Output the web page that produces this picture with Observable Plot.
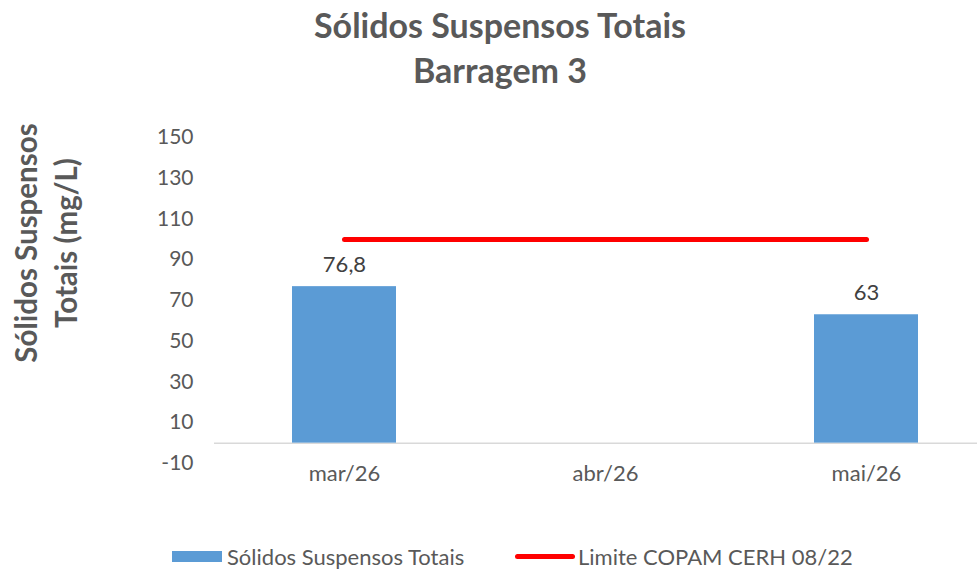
<!DOCTYPE html>
<html>
<head>
<meta charset="utf-8">
<script src="https://cdn.jsdelivr.net/npm/d3@7"></script>
<script src="https://cdn.jsdelivr.net/npm/@observablehq/plot@0.6"></script>
<style>
  html, body { margin: 0; padding: 0; background: #fff; }
  #wrap { position: relative; width: 977px; height: 575px; font-family: Lato, "Open Sans", sans-serif; color: #595959; overflow: hidden; }
  #title { position: absolute; left: 0; top: 2px; width: 1000px; text-align: center; font-weight: bold; font-size: 34px; line-height: 45px; color: #595959; }
  #chart { position: absolute; left: 0; top: 105px; }
  .ytitle { position: absolute; width: 400px; height: 40px; line-height: 40px; text-align: center; font-weight: bold; font-size: 29.5px; color: #595959; transform: rotate(-90deg); transform-origin: 50% 50%; white-space: nowrap; }
  #legend { position: absolute; top: 541px; left: 0; width: 977px; height: 30px; font-size: 22px; color: #595959; }
  .item { position: absolute; top: 0; display: flex; align-items: center; height: 30px; }
  .sw-bar { width: 50px; height: 11px; background: #5B9BD5; margin-right: 5px; }
  .sw-line { width: 60px; height: 5px; border-radius: 3px; background: #FF0000; margin-right: 3px; }
</style>
</head>
<body>
<div id="wrap">
  <div id="title">Sólidos Suspensos Totais<br>Barragem 3</div>
  <div id="chart"></div>
  <div id="ytitle"></div>
  <div id="legend">
    <div class="item" style="left:172px"><div class="sw-bar"></div><span>Sólidos Suspensos Totais</span></div>
    <div class="item" style="left:515px"><div class="sw-line"></div><span>Limite COPAM CERH 08/22</span></div>
  </div>
</div>
<script>
const months = ["mar/26", "abr/26", "mai/26"];
const sst = [76.8, null, 63];
const limite = [100, 100, 100];
const yTicks = [-10, 10, 30, 50, 70, 90, 110, 130, 150];
const yTitleLines = ["Sólidos Suspensos", "Totais (mg/L)"];

// y-axis title (rotated, two lines)
yTitleLines.forEach((t, i) => {
  const el = document.createElement("div");
  el.className = "ytitle";
  el.textContent = t;
  const cx = 26 + i * 40, cy = 243;
  el.style.left = (cx - 200) + "px";
  el.style.top = (cy - 20) + "px";
  document.getElementById("ytitle").appendChild(el);
});

const bars = months.map((m, i) => ({month: m, value: sst[i]})).filter(d => d.value != null);
const lim = months.map((m, i) => ({month: m, value: limite[i]}));
const fmt = v => String(v).replace(".", ",");

const chart = Plot.plot({
  width: 977,
  height: 400,
  marginTop: 32,
  marginBottom: 42,
  marginLeft: 214,
  marginRight: 0,
  style: {fontFamily: "Lato, 'Open Sans', sans-serif", fontSize: "21px", color: "#595959", background: "white"},
  x: {domain: months, range: [214, 997], paddingInner: 0.6, paddingOuter: 0.3, label: null},
  y: {domain: [-10, 150], ticks: yTicks, label: null},
  marks: [
    Plot.axisY({ticks: yTicks, tickFormat: d => String(d), tickSize: 0, tickPadding: 21, fontSize: 21, fill: "#595959", label: null}),
    Plot.axisX({tickSize: 0, tickPadding: 2, fontSize: 22, fill: "#595959", label: null}),
    Plot.ruleY([0], {stroke: "#D9D9D9", strokeWidth: 1.5}),
    Plot.barY(bars, {x: "month", y: "value", fill: "#5B9BD5"}),
    Plot.line(lim, {x: "month", y: "value", stroke: "#FF0000", strokeWidth: 5, strokeLinecap: "round"}),
    Plot.text(bars, {x: "month", y: "value", text: d => fmt(d.value), dy: -22, fontSize: 22, fill: "#404040"})
  ]
});
document.getElementById("chart").appendChild(chart);
</script>
</body>
</html>
